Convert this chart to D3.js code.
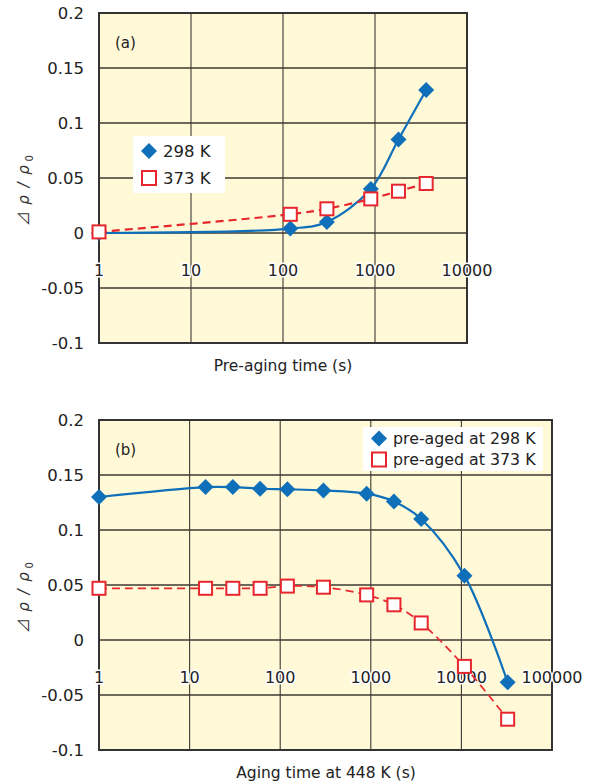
<!DOCTYPE html>
<html lang="en">
<head>
<meta charset="UTF-8">
<title>Resistivity change vs aging time</title>
<script src="https://cdn.jsdelivr.net/npm/d3@7"></script>
<style>
  body { margin: 0; background: #fff; }
  svg { display: block; font-family: "DejaVu Sans", Arial, sans-serif; }
</style>
</head>
<body>
<svg id="chart" width="590" height="783"></svg>
<script>
// panel (a): pre-aging time (s)
const preTimes298 = [1, 120, 300, 900, 1800, 3600];
const preVals298  = [0, 0.004, 0.01, 0.04, 0.085, 0.13];
const preTimes373 = [1, 120, 300, 900, 1800, 3600];
const preVals373  = [0.001, 0.017, 0.022, 0.031, 0.038, 0.045];

// panel (b): aging time at 448 K (s)
const agingTimes  = [1, 15, 30, 60, 120, 300, 900, 1800, 3600, 10800, 32400];
const agedVals298 = [0.130, 0.139, 0.139, 0.1375, 0.137, 0.136, 0.133, 0.126, 0.110, 0.0585, -0.0385];
const agedVals373 = [0.047, 0.047, 0.047, 0.047, 0.049, 0.048, 0.041, 0.032, 0.0155, -0.024, -0.072];

const yTicks = [-0.1, -0.05, 0, 0.05, 0.1, 0.15, 0.2];
const xTicksA = [1, 10, 100, 1000, 10000];
const xTicksB = [1, 10, 100, 1000, 10000, 100000];

const BLUE = "#0f6fb9", RED = "#e8262e";
const svg = d3.select("#chart");

function panel(opt) {
  const x = d3.scaleLog().domain(opt.xDomain).range([opt.left, opt.right]);
  const y = d3.scaleLinear().domain([-0.1, 0.2]).range([opt.bottom, opt.top]);
  const g = svg.append("g");

  g.append("rect")
    .attr("x", opt.left).attr("y", opt.top)
    .attr("width", opt.right - opt.left).attr("height", opt.bottom - opt.top)
    .attr("fill", "#fff9d7");

  // grid
  g.selectAll(".hg").data(yTicks).enter().append("line")
    .attr("x1", opt.left).attr("x2", opt.right)
    .attr("y1", d => y(d)).attr("y2", d => y(d))
    .attr("stroke", "#3d3a33").attr("stroke-width", 1.3);
  g.selectAll(".vg").data(opt.xTicks).enter().append("line")
    .attr("x1", d => x(d)).attr("x2", d => x(d))
    .attr("y1", opt.top).attr("y2", opt.bottom)
    .attr("stroke", "#3d3a33").attr("stroke-width", 1.1);

  g.append("rect")
    .attr("x", opt.left).attr("y", opt.top)
    .attr("width", opt.right - opt.left).attr("height", opt.bottom - opt.top)
    .attr("fill", "none").attr("stroke", "#333").attr("stroke-width", 2);

  // y tick labels
  g.selectAll(".yl").data(yTicks).enter().append("text")
    .attr("x", 84).attr("y", d => y(d)).attr("dy", "0.36em")
    .attr("text-anchor", "end").attr("font-size", 16.5).attr("fill", "#222")
    .text(d => d === 0 ? "0" : String(d));

  // x tick labels (sit under the zero line with a white halo)
  g.selectAll(".xl").data(opt.xTicks).enter().append("text")
    .attr("x", d => x(d)).attr("y", y(0) + 37).attr("dy", "0.36em")
    .attr("text-anchor", "middle").attr("font-size", 16).attr("fill", "#222")
    .attr("stroke", "#fff").attr("stroke-width", 3).attr("paint-order", "stroke")
    .text(d => d);

  // panel label
  g.append("text").attr("x", opt.left + 16).attr("y", opt.top + 35)
    .attr("font-size", 15).attr("fill", "#222").text(opt.tag);

  // y axis title
  const yt = g.append("text")
    .attr("transform", `translate(29,${(opt.top + opt.bottom) / 2 + 12}) rotate(-90)`)
    .attr("text-anchor", "middle").attr("font-size", 15).attr("fill", "#333")
    .attr("letter-spacing", 1.5);
  yt.append("tspan").attr("font-family", "'Noto Sans CJK JP', 'DejaVu Sans'").text("⊿");
  yt.append("tspan").attr("font-style", "italic").attr("dx", 5).text("ρ / ρ");
  yt.append("tspan").attr("font-size", 10).attr("dy", 4).attr("dx", 2).text("0");

  // x axis title
  g.append("text").attr("x", opt.titleX).attr("y", opt.bottom + 28)
    .attr("text-anchor", "middle").attr("font-size", 15.5).attr("fill", "#222")
    .text(opt.xTitle);

  return { g, x, y };
}

function series(p, times, vals, kind) {
  const pts = times.map((t, i) => [p.x(t), p.y(vals[i])]);
  const line = d3.line().curve(d3.curveCatmullRom.alpha(0.5));
  const path = p.g.append("path").attr("d", line(pts)).attr("fill", "none");
  if (kind === "blue") {
    path.attr("stroke", BLUE).attr("stroke-width", 2.2);
    p.g.selectAll(null).data(pts).enter().append("path")
      .attr("d", d => `M${d[0]},${d[1] - 8}L${d[0] + 8},${d[1]}L${d[0]},${d[1] + 8}L${d[0] - 8},${d[1]}Z`)
      .attr("fill", BLUE);
  } else {
    path.attr("stroke", RED).attr("stroke-width", kind === "redThin" ? 1.7 : 2.2)
      .attr("stroke-dasharray", "8,5");
    p.g.selectAll(null).data(pts).enter().append("rect")
      .attr("x", d => d[0] - 6.5).attr("y", d => d[1] - 6.5)
      .attr("width", 13).attr("height", 13)
      .attr("fill", "#fff").attr("stroke", RED).attr("stroke-width", 2);
  }
}

function legend(g, x, y, w, h, labels, rowGap) {
  g.append("rect").attr("x", x).attr("y", y).attr("width", w).attr("height", h).attr("fill", "#fff");
  const cx = x + 16, r1 = y + h / 2 - rowGap / 2, r2 = y + h / 2 + rowGap / 2;
  g.append("path")
    .attr("d", `M${cx},${r1 - 8}L${cx + 8},${r1}L${cx},${r1 + 8}L${cx - 8},${r1}Z`)
    .attr("fill", BLUE);
  g.append("rect").attr("x", cx - 7).attr("y", r2 - 7).attr("width", 14).attr("height", 14)
    .attr("fill", "#fff").attr("stroke", RED).attr("stroke-width", 2);
  [r1, r2].forEach((ry, i) => {
    g.append("text").attr("x", cx + 14).attr("y", ry).attr("dy", "0.36em")
      .attr("font-size", labels.size).attr("fill", "#222").text(labels.text[i]);
  });
}

// panel (a)
const pa = panel({ left: 99, right: 467, top: 13, bottom: 343, xDomain: [1, 10000],
  xTicks: xTicksA, tag: "(a)", xTitle: "Pre-aging time (s)", titleX: 283 });
series(pa, preTimes298, preVals298, "blue");
series(pa, preTimes373, preVals373, "red");
legend(pa.g, 133, 136, 92, 57, { text: ["298 K", "373 K"], size: 16.5 }, 27);

// panel (b)
const pb = panel({ left: 99, right: 552, top: 420, bottom: 750, xDomain: [1, 100000],
  xTicks: xTicksB, tag: "(b)", xTitle: "Aging time at 448 K (s)", titleX: 326 });
series(pb, agingTimes, agedVals298, "blue");
series(pb, agingTimes, agedVals373, "redThin");
legend(pb.g, 363, 427, 180, 44, { text: ["pre-aged at 298 K", "pre-aged at 373 K"], size: 15.8 }, 21);
</script>
</body>
</html>
